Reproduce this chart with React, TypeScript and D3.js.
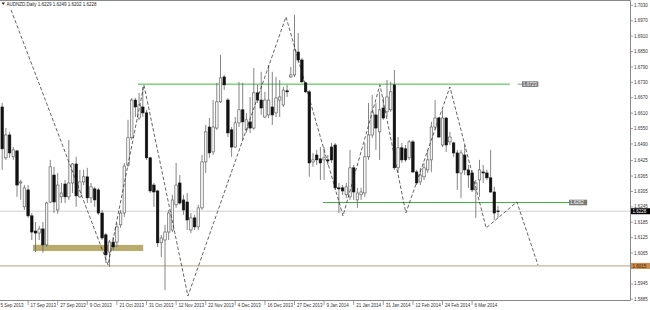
import React from "react";
import * as d3 from "d3";

const chartTitle = "AUDNZD,Daily  1.6229 1.6249 1.6202 1.6228";

const opens = [
  1.6634, 1.6436, 1.6525, 1.6440, 1.6463, 1.6338, 1.6245, 1.6311, 1.6210, 1.6151,
  1.6143, 1.6159, 1.6097, 1.6264, 1.6369, 1.6233, 1.6284, 1.6334, 1.6284, 1.6338,
  1.6412, 1.6284, 1.6342, 1.6362, 1.6280, 1.6315, 1.6311, 1.6221, 1.6136, 1.6069,
  1.6108, 1.6108, 1.6175, 1.6221, 1.6408, 1.6514, 1.6661, 1.6591, 1.6634, 1.6611,
  1.6436, 1.6330, 1.6307, 1.6105, 1.6116, 1.6147, 1.6155, 1.6253, 1.6338, 1.6272,
  1.6264, 1.6155, 1.6202, 1.6167, 1.6241, 1.6420, 1.6556, 1.6459, 1.6552, 1.6654,
  1.6751, 1.6661, 1.6545, 1.6478, 1.6572, 1.6623, 1.6545, 1.6576, 1.6552, 1.6689,
  1.6661, 1.6595, 1.6603, 1.6634, 1.6611, 1.6661, 1.6642, 1.6697, 1.6751, 1.6759,
  1.6848, 1.6817, 1.6728, 1.6693, 1.6420, 1.6447, 1.6432, 1.6428, 1.6428, 1.6478,
  1.6486, 1.6319, 1.6319, 1.6292, 1.6284, 1.6397, 1.6272, 1.6292, 1.6299, 1.6440,
  1.6525, 1.6603, 1.6537, 1.6630, 1.6615, 1.6623, 1.6720, 1.6397, 1.6475, 1.6471,
  1.6436, 1.6498, 1.6381, 1.6342, 1.6362, 1.6389, 1.6428, 1.6556, 1.6591, 1.6486,
  1.6591, 1.6498, 1.6494, 1.6455, 1.6377, 1.6447, 1.6389, 1.6377, 1.6311, 1.6350,
  1.6381, 1.6377, 1.6358, 1.6303, 1.6229,
];
const highs = [
  1.6650, 1.6552, 1.6537, 1.6478, 1.6467, 1.6350, 1.6330, 1.6330, 1.6221, 1.6186,
  1.6171, 1.6186, 1.6264, 1.6428, 1.6401, 1.6377, 1.6338, 1.6350, 1.6506, 1.6416,
  1.6440, 1.6389, 1.6389, 1.6397, 1.6338, 1.6323, 1.6319, 1.6233, 1.6143, 1.6116,
  1.6128, 1.6182, 1.6233, 1.6416, 1.6584, 1.6669, 1.6669, 1.6689, 1.6712, 1.6623,
  1.6440, 1.6338, 1.6311, 1.6136, 1.6175, 1.6233, 1.6292, 1.6416, 1.6369, 1.6292,
  1.6299, 1.6221, 1.6214, 1.6253, 1.6447, 1.6564, 1.6591, 1.6661, 1.6728, 1.6837,
  1.6759, 1.6669, 1.6556, 1.6595, 1.6732, 1.6728, 1.6611, 1.6673, 1.6786, 1.6720,
  1.6771, 1.6693, 1.6798, 1.6771, 1.6751, 1.6739, 1.6712, 1.6720, 1.6790, 1.6993,
  1.6922, 1.6825, 1.6732, 1.6700, 1.6455, 1.6467, 1.6478, 1.6478, 1.6447, 1.6494,
  1.6494, 1.6338, 1.6330, 1.6338, 1.6467, 1.6408, 1.6319, 1.6319, 1.6494, 1.6650,
  1.6681, 1.6650, 1.6693, 1.6673, 1.6739, 1.6732, 1.6778, 1.6517, 1.6494, 1.6486,
  1.6506, 1.6506, 1.6389, 1.6397, 1.6416, 1.6467, 1.6576, 1.6661, 1.6595, 1.6623,
  1.6595, 1.6537, 1.6498, 1.6467, 1.6467, 1.6486, 1.6408, 1.6389, 1.6350, 1.6428,
  1.6408, 1.6389, 1.6467, 1.6323, 1.6249,
];
const lows = [
  1.6389, 1.6428, 1.6436, 1.6428, 1.6284, 1.6272, 1.6233, 1.6202, 1.6116, 1.6069,
  1.6116, 1.6066, 1.6089, 1.6260, 1.6221, 1.6218, 1.6260, 1.6260, 1.6272, 1.6299,
  1.6245, 1.6280, 1.6330, 1.6260, 1.6260, 1.6245, 1.6214, 1.6116, 1.6027, 1.6011,
  1.6077, 1.6089, 1.6163, 1.6206, 1.6401, 1.6506, 1.6595, 1.6584, 1.6595, 1.6428,
  1.6299, 1.6245, 1.6089, 1.6050, 1.5921, 1.6116, 1.6147, 1.6241, 1.6253, 1.6214,
  1.6155, 1.6143, 1.6155, 1.6155, 1.6233, 1.6377, 1.6436, 1.6447, 1.6545, 1.6650,
  1.6700, 1.6517, 1.6440, 1.6475, 1.6556, 1.6506, 1.6533, 1.6533, 1.6545, 1.6650,
  1.6603, 1.6591, 1.6591, 1.6564, 1.6595, 1.6595, 1.6634, 1.6673, 1.6747, 1.6751,
  1.6806, 1.6728, 1.6689, 1.6362, 1.6401, 1.6408, 1.6350, 1.6350, 1.6408, 1.6416,
  1.6311, 1.6221, 1.6292, 1.6280, 1.6272, 1.6272, 1.6241, 1.6272, 1.6284, 1.6428,
  1.6514, 1.6467, 1.6428, 1.6584, 1.6595, 1.6615, 1.6389, 1.6377, 1.6416, 1.6420,
  1.6428, 1.6377, 1.6330, 1.6330, 1.6350, 1.6377, 1.6381, 1.6545, 1.6514, 1.6478,
  1.6459, 1.6486, 1.6440, 1.6311, 1.6280, 1.6369, 1.6319, 1.6303, 1.6202, 1.6284,
  1.6338, 1.6350, 1.6299, 1.6194, 1.6202,
];
const closes = [
  1.6471, 1.6525, 1.6455, 1.6467, 1.6330, 1.6342, 1.6319, 1.6210, 1.6147, 1.6143,
  1.6159, 1.6097, 1.6260, 1.6401, 1.6264, 1.6330, 1.6299, 1.6284, 1.6338, 1.6412,
  1.6288, 1.6342, 1.6362, 1.6280, 1.6323, 1.6272, 1.6221, 1.6124, 1.6058, 1.6108,
  1.6089, 1.6167, 1.6221, 1.6404, 1.6514, 1.6661, 1.6634, 1.6642, 1.6611, 1.6436,
  1.6307, 1.6303, 1.6105, 1.6124, 1.6147, 1.6221, 1.6272, 1.6330, 1.6260, 1.6233,
  1.6194, 1.6202, 1.6167, 1.6241, 1.6420, 1.6537, 1.6455, 1.6556, 1.6654, 1.6747,
  1.6720, 1.6533, 1.6478, 1.6572, 1.6623, 1.6576, 1.6584, 1.6552, 1.6689, 1.6661,
  1.6630, 1.6661, 1.6661, 1.6603, 1.6669, 1.6673, 1.6700, 1.6693, 1.6759, 1.6856,
  1.6817, 1.6732, 1.6693, 1.6416, 1.6428, 1.6428, 1.6416, 1.6436, 1.6424, 1.6428,
  1.6319, 1.6315, 1.6307, 1.6323, 1.6397, 1.6303, 1.6299, 1.6303, 1.6440, 1.6525,
  1.6615, 1.6552, 1.6623, 1.6591, 1.6673, 1.6693, 1.6397, 1.6475, 1.6428, 1.6428,
  1.6498, 1.6381, 1.6338, 1.6369, 1.6397, 1.6428, 1.6556, 1.6591, 1.6517, 1.6591,
  1.6486, 1.6517, 1.6455, 1.6377, 1.6455, 1.6389, 1.6369, 1.6311, 1.6338, 1.6389,
  1.6377, 1.6358, 1.6303, 1.6221, 1.6228,
];

const priceTicks = [
  1.703, 1.697, 1.691, 1.685, 1.679, 1.673, 1.667, 1.661, 1.655, 1.649,
  1.6425, 1.6365, 1.6305, 1.6245, 1.6185, 1.6125, 1.6065, 1.6005, 1.5945, 1.5885,
];
const dateLabels = [
  "5 Sep 2013", "17 Sep 2013", "27 Sep 2013", "9 Oct 2013", "21 Oct 2013", "31 Oct 2013",
  "12 Nov 2013", "22 Nov 2013", "4 Dec 2013", "16 Dec 2013", "27 Dec 2013", "9 Jan 2014",
  "21 Jan 2014", "31 Jan 2014", "12 Feb 2014", "24 Feb 2014", "6 Mar 2014",
];
const dateTickBars = [-1.2, 7, 15, 23, 31, 39, 47, 55, 63, 71, 79, 87, 95, 103, 111, 119, 127];

const zigzagBars = [2.4, 28.6, 38.3, 50.2, 76.7, 92.1, 102.1, 109.1, 121.0, 130.8, 139.1, 144.8];
const zigzagPrices = [1.7012, 1.6019, 1.672, 1.5898, 1.6985, 1.621, 1.672, 1.6221, 1.6712, 1.6163, 1.6264, 1.6019];

const resistanceLevel = 1.6723;
const resistanceBars = [36.7, 137.2];
const supportLevel = 1.6262;
const supportBars = [86.7, 153.2];
const currentPrice = 1.6228;
const baseLevel = 1.6015;
const zoneBars = [8.3, 38.1];
const zonePrices = [1.6097, 1.6073];

export default function App() {
  const W = 650;
  const H = 310;
  const plotRight = 630.5;
  const plotBottom = 300.5;
  const x = d3.scaleLinear().domain([0, 134]).range([2.2, 2.2 + 134 * 3.7]);
  const y = d3.scaleLinear().domain([1.5885, 1.703]).range([299.3, 5.3]);
  const zig = d3
    .line<number>()
    .x((b) => x(b))
    .y((_, i) => y(zigzagPrices[i]));
  const font = "'Liberation Sans', Arial, sans-serif";
  const fs = 4.5;
  const bodyW = 2.5;
  const boxLevels = [currentPrice, baseLevel];
  const visibleTicks = priceTicks.filter((p) => !boxLevels.some((b) => Math.abs(y(p) - y(b)) < 3.5));

  return (
    <div style={{ position: "absolute", left: 0, top: 0 }}>
      <svg width={W} height={H} style={{ display: "block", background: "#fff" }}>
        <defs>
          <clipPath id="plot">
            <rect x={0} y={0} width={plotRight} height={plotBottom} />
          </clipPath>
          <clipPath id="page">
            <rect x={0} y={0} width={W} height={H} />
          </clipPath>
        </defs>
        <rect x={0} y={0} width={W} height={H} fill="#fff" />
        <g clipPath="url(#plot)">
          <rect
            x={x(zoneBars[0])}
            y={y(zonePrices[0])}
            width={x(zoneBars[1]) - x(zoneBars[0])}
            height={y(zonePrices[1]) - y(zonePrices[0])}
            fill="#b9ab6b"
          />
          <line x1={0} x2={plotRight} y1={y(currentPrice)} y2={y(currentPrice)} stroke="#c4c4c4" strokeWidth={0.8} />
          <line x1={0} x2={plotRight} y1={y(baseLevel)} y2={y(baseLevel)} stroke="#9a8c5e" strokeWidth={0.8} />
          <line x1={x(resistanceBars[0])} x2={x(resistanceBars[1])} y1={y(resistanceLevel)} y2={y(resistanceLevel)} stroke="#3cb83c" strokeWidth={1} />
          <line x1={x(supportBars[0])} x2={x(supportBars[1])} y1={y(supportLevel)} y2={y(supportLevel)} stroke="#3cb83c" strokeWidth={1} />
          {opens.map((o, i) => {
            const c = closes[i];
            const cx = x(i);
            const bull = c >= o;
            const top = y(Math.max(o, c));
            const bot = y(Math.min(o, c));
            return (
              <g key={i}>
                <line x1={cx} x2={cx} y1={y(highs[i])} y2={y(lows[i])} stroke="#666" strokeWidth={0.8} />
                <rect
                  x={cx - bodyW / 2}
                  y={top}
                  width={bodyW}
                  height={Math.max(0.7, bot - top)}
                  fill={bull ? "#f4f4f4" : "#111"}
                  stroke={bull ? "#555" : "#111"}
                  strokeWidth={0.6}
                />
              </g>
            );
          })}
          <path d={zig(zigzagBars) || ""} fill="none" stroke="#222" strokeWidth={0.7} strokeDasharray="3.5,2" />
          <line x1={x(139.3)} x2={x(140.5)} y1={y(resistanceLevel)} y2={y(resistanceLevel)} stroke="#777" strokeWidth={0.8} />
          <rect x={x(140.5)} y={y(resistanceLevel) - 2.8} width={x(144.9) - x(140.5)} height={5.6} fill="#7a7a7a" />
          <text x={x(140.5) + 1} y={y(resistanceLevel) + 1.6} fontSize={fs} fontFamily={font} fill="#fff">
            {resistanceLevel.toFixed(4)}
          </text>
          <rect x={x(153.2)} y={y(supportLevel) - 2.8} width={x(158.1) - x(153.2)} height={5.6} fill="#7a7a7a" />
          <text x={x(153.2) + 1} y={y(supportLevel) + 1.6} fontSize={fs} fontFamily={font} fill="#fff">
            {supportLevel.toFixed(4)}
          </text>
        </g>
        <line x1={0} x2={plotRight} y1={0.5} y2={0.5} stroke="#888" strokeWidth={1} />
        <line x1={0} x2={plotRight} y1={plotBottom} y2={plotBottom} stroke="#888" strokeWidth={1} />
        <line x1={plotRight} x2={plotRight} y1={0.5} y2={plotBottom} stroke="#888" strokeWidth={1} />
        <path d="M1.5,2.5 L5,2.5 L3.25,5 Z" fill="#222" />
        <text x={6.5} y={5.6} fontSize={fs} fontFamily={font} fill="#222">
          {chartTitle}
        </text>
        {priceTicks.map((p) => (
          <line key={"t" + p} x1={plotRight} x2={plotRight + 2.5} y1={y(p)} y2={y(p)} stroke="#888" strokeWidth={0.8} />
        ))}
        {visibleTicks.map((p) => (
          <text key={p} x={634} y={y(p) + 1.6} fontSize={fs} fontFamily={font} fill="#333">
            {p.toFixed(4)}
          </text>
        ))}
        <rect x={631} y={y(currentPrice) - 3} width={19} height={6} fill="#000" />
        <text x={632.5} y={y(currentPrice) + 1.6} fontSize={fs} fontFamily={font} fill="#fff">
          {currentPrice.toFixed(4)}
        </text>
        <rect x={631} y={y(baseLevel) - 3} width={19} height={6} fill="#cd8a48" />
        <text x={632.5} y={y(baseLevel) + 1.6} fontSize={fs} fontFamily={font} fill="#3a2205">
          {baseLevel.toFixed(4)}
        </text>
        <g clipPath="url(#page)">
          {dateTickBars.map((b, k) => (
            <g key={b}>
              <line x1={x(b)} x2={x(b)} y1={plotBottom} y2={plotBottom + 4.5} stroke="#888" strokeWidth={0.8} />
              <text x={Math.max(0.5, x(b) + 2.5)} y={307} fontSize={fs} fontFamily={font} fill="#333">
                {dateLabels[k]}
              </text>
            </g>
          ))}
        </g>
      </svg>
    </div>
  );
}
